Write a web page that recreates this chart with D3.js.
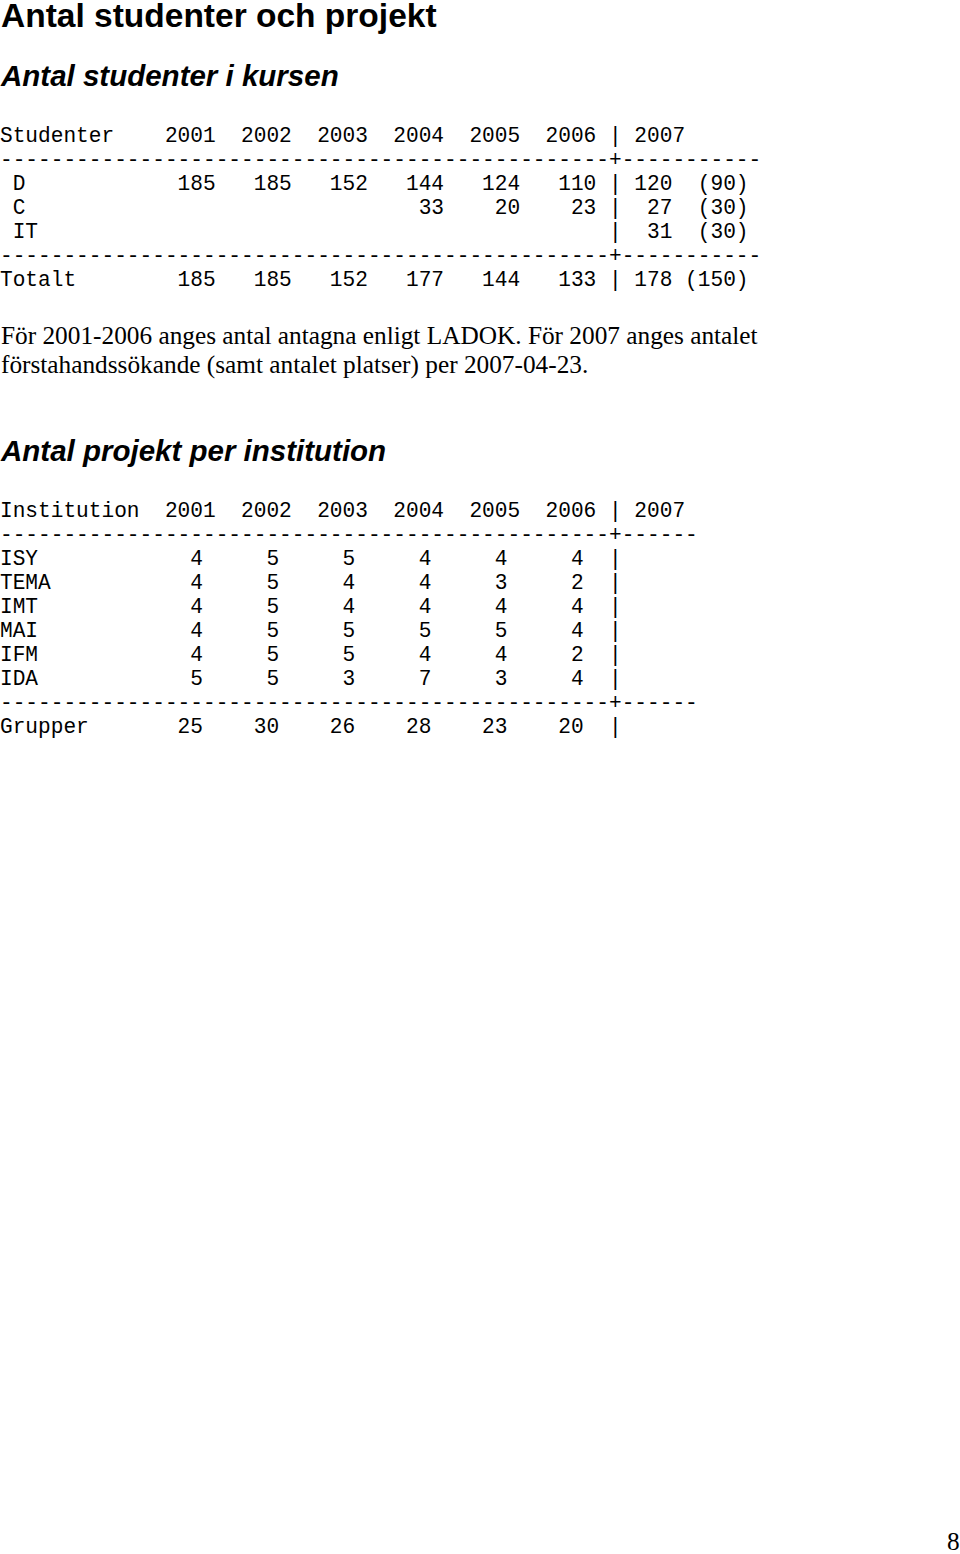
<!DOCTYPE html>
<html><head><meta charset="utf-8">
<script src="https://cdn.jsdelivr.net/npm/d3@7"></script>
<style>body{margin:0;background:#fff}text{white-space:pre}</style>
</head><body><div id="page"></div>
<script>
const years = ["2001", "2002", "2003", "2004", "2005", "2006"];
const lastYear = "2007";

const studentRows = [
    { label: " D", values: [185, 185, 152, 144, 124, 110], last: 120, seats: 90 },
    { label: " C", values: [null, null, null, 33, 20, 23], last: 27, seats: 30 },
    { label: " IT", values: [null, null, null, null, null, null], last: 31, seats: 30 },
];
const studentTotal = { label: "Totalt", values: [185, 185, 152, 177, 144, 133], last: 178, seats: 150 };

const projectRows = [
    { label: "ISY", values: [4, 5, 5, 4, 4, 4] },
    { label: "TEMA", values: [4, 5, 4, 4, 3, 2] },
    { label: "IMT", values: [4, 5, 4, 4, 4, 4] },
    { label: "MAI", values: [4, 5, 5, 5, 5, 4] },
    { label: "IFM", values: [4, 5, 5, 4, 4, 2] },
    { label: "IDA", values: [5, 5, 3, 7, 3, 4] },
];
const projectTotal = { label: "Grupper", values: [25, 30, 26, 28, 23, 20] };

const pad = (v, n) => (v == null ? "" : String(v)).padStart(n);

const svg = d3.select("#page").append("svg").attr("width", 960).attr("height", 1554);

const heading = (y, txt, size, italic) => svg.append("text")
    .attr("x", 1).attr("y", y).text(txt)
    .style("font-family", "Liberation Sans, Arial").style("font-weight", "bold")
    .style("font-style", italic ? "italic" : "normal").style("font-size", size + "px");

heading(27, "Antal studenter och projekt", 33.5, false);
heading(86, "Antal studenter i kursen", 29.5, true);
heading(461, "Antal projekt per institution", 29.5, true);

// table 1 lines
const yearCols = years.map(y => y.padEnd(6)).join("").slice(0, 35);
const row1 = r => r.label.padEnd(13) + r.values.map(v => pad(v, 4) + "  ").join("").slice(0, 35)
    + "| " + pad(r.last, 3) + pad("(" + r.seats + ")", 6);
const t1 = [];
t1.push("Studenter".padEnd(13) + yearCols + "| " + lastYear);
t1.push("-".repeat(48) + "+" + "-".repeat(11));
studentRows.forEach(r => t1.push(row1(r)));
t1.push("-".repeat(48) + "+" + "-".repeat(11));
t1.push(row1(studentTotal));

// table 2 lines
const row2 = r => r.label.padEnd(13) + r.values.map(v => pad(v, 3) + "   ").join("").slice(0, 35) + "|";
const t2 = [];
t2.push("Institution".padEnd(13) + yearCols + "| " + lastYear);
t2.push("-".repeat(48) + "+" + "-".repeat(6));
projectRows.forEach(r => t2.push(row2(r)));
t2.push("-".repeat(48) + "+" + "-".repeat(6));
t2.push(row2(projectTotal));

const mono = (lines, y0) => svg.append("g").selectAll("text").data(lines).enter().append("text")
    .attr("x", 0).attr("y", (d, i) => y0 + i * 24)
    .style("font-family", "Liberation Mono, Courier New, monospace").style("font-size", "21.15px")
    .attr("fill", "#000").text(d => d);

mono(t1, 142);
mono(t2, 517);

const serif = (x, y, txt) => svg.append("text").attr("x", x).attr("y", y).text(txt)
    .style("font-family", "Liberation Serif, Times New Roman").style("font-size", "25.3px");
serif(1, 344, "För 2001-2006 anges antal antagna enligt LADOK. För 2007 anges antalet");
serif(1, 373, "förstahandssökande (samt antalet platser) per 2007-04-23.");
serif(947, 1550, "8");
</script></body></html>
